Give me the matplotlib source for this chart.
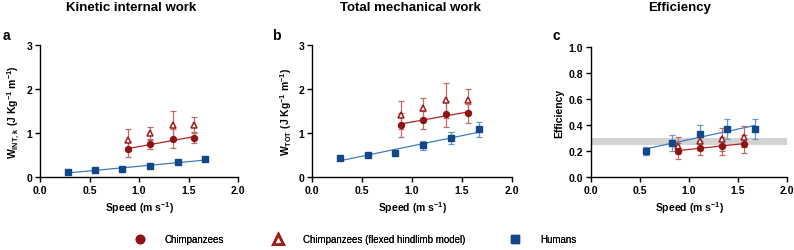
import numpy as np
import matplotlib
matplotlib.use("Agg")
import matplotlib.pyplot as plt
from matplotlib.lines import Line2D

plt.rcParams['font.family'] = ['Liberation Sans', 'DejaVu Sans']
plt.rcParams['font.weight'] = 'bold'
plt.rcParams['mathtext.fontset'] = 'custom'
plt.rcParams['mathtext.rm'] = 'Liberation Sans:bold'
plt.rcParams['mathtext.it'] = 'Liberation Sans:bold'
plt.rcParams['mathtext.bf'] = 'Liberation Sans:bold'
plt.rcParams['mathtext.default'] = 'rm'

# ---- data ----
speed_human = [0.28, 0.56, 0.83, 1.11, 1.39, 1.67]
speed_chimp = [0.89, 1.11, 1.34, 1.56]
speed_human_eff = [0.56, 0.83, 1.11, 1.39, 1.67]

# Panel a: kinetic internal work
a_human = [0.11, 0.15, 0.19, 0.25, 0.33, 0.40]
a_human_err = [0.01, 0.01, 0.01, 0.01, 0.01, 0.01]
a_chimp = [0.63, 0.74, 0.87, 0.89]
a_chimp_err = [0.18, 0.10, 0.21, 0.12]
a_flex = [0.84, 1.00, 1.18, 1.19]
a_flex_err = [0.25, 0.13, 0.32, 0.17]

# Panel b: total mechanical work
b_human = [0.44, 0.49, 0.55, 0.72, 0.88, 1.08]
b_human_err = [0.02, 0.02, 0.03, 0.10, 0.14, 0.18]
b_chimp = [1.19, 1.30, 1.43, 1.45]
b_chimp_err = [0.27, 0.21, 0.29, 0.22]
b_flex = [1.41, 1.56, 1.74, 1.76]
b_flex_err = [0.31, 0.23, 0.39, 0.25]

# Panel c: efficiency
c_human = [0.20, 0.26, 0.33, 0.37, 0.37]
c_human_err = [0.03, 0.06, 0.07, 0.08, 0.08]
c_chimp = [0.20, 0.225, 0.24, 0.255]
c_chimp_err = [0.06, 0.055, 0.07, 0.07]
c_flex = [0.24, 0.275, 0.29, 0.31]
c_flex_err = [0.065, 0.07, 0.09, 0.08]
c_band = [0.25, 0.30]

titles = ['Kinetic internal work', 'Total mechanical work', 'Efficiency']
letters = ['a', 'b', 'c']
ylabels = [r'W$_{\mathrm{INT,\,k}}$ (J Kg$^{-1}$ m$^{-1}$)',
           r'W$_{\mathrm{TOT}}$ (J Kg$^{-1}$ m$^{-1}$)',
           'Efficiency']
xlabel = r'Speed (m s$^{-1}$)'
legend_labels = ['Chimpanzees', 'Chimpanzees (flexed hindlimb model)', 'Humans']

# ---- style ----
RED = '#8e1414'
RED_ERR = '#c46a6a'
RED_LINE = '#b52424'
BLUE = '#12488a'
BLUE_ERR = '#6b97cc'
BLUE_LINE = '#3d7cc2'

fig = plt.figure(figsize=(7.94, 2.51), dpi=100)
W, H = 794, 251
boxes = [(40, 238, 46, 178), (312, 512, 46, 178), (591, 787, 48, 178)]
axes = []
for (l, r, t, b) in boxes:
    axes.append(fig.add_axes([l / W, 1 - b / H, (r - l) / W, (b - t) / H]))

def fitline(ax, x, y, color):
    x = np.asarray(x); y = np.asarray(y)
    k, c0 = np.polyfit(x, y, 1)
    xs = np.array([x.min(), x.max()])
    ax.plot(xs, k * xs + c0, color=color, lw=0.9, zorder=2)

def series(ax, x, y, e, marker, mcolor, ecolor, fill=True):
    ax.errorbar(x, y, yerr=e, fmt='none', ecolor=ecolor, elinewidth=0.9,
                capsize=1.9, capthick=0.9, zorder=3)
    ax.plot(x, y, linestyle='none', marker=marker, markersize=4.3 if marker != '^' else 4.8,
            markerfacecolor=mcolor if fill else 'white', markeredgecolor=mcolor,
            markeredgewidth=1.0 if fill else 1.1, zorder=4)

datasets = [
    (speed_human, a_human, a_human_err, a_chimp, a_chimp_err, a_flex, a_flex_err),
    (speed_human, b_human, b_human_err, b_chimp, b_chimp_err, b_flex, b_flex_err),
    (speed_human_eff, c_human, c_human_err, c_chimp, c_chimp_err, c_flex, c_flex_err),
]

for i, ax in enumerate(axes):
    hx, hy, he, cy, ce, fy, fe = datasets[i]
    if i == 2:
        ax.axhspan(c_band[0], c_band[1], color='#d3d3d3', lw=0, zorder=1)
    fitline(ax, hx, hy, BLUE_LINE)
    fitline(ax, speed_chimp, cy, RED_LINE)
    series(ax, hx, hy, he, 's', BLUE, BLUE_ERR)
    series(ax, speed_chimp, fy, fe, '^', '#a01c1c', RED_ERR, fill=False)
    series(ax, speed_chimp, cy, ce, 'o', RED, RED_ERR)

    ax.set_xlim(0, 2.0)
    ax.set_xticks([0, 0.5, 1.0, 1.5, 2.0])
    ax.set_xticklabels(['0.0', '0.5', '1.0', '1.5', '2.0'])
    if i < 2:
        ax.set_ylim(0, 3)
        ax.set_yticks([0, 1, 2, 3])
    else:
        ax.set_ylim(0, 1.0)
        ax.set_yticks([0, 0.2, 0.4, 0.6, 0.8, 1.0])
        ax.set_yticklabels(['0.0', '0.2', '0.4', '0.6', '0.8', '1.0'])
    for s in ['top', 'right']:
        ax.spines[s].set_visible(False)
    for s in ['left', 'bottom']:
        ax.spines[s].set_linewidth(1.0)
    ax.tick_params(direction='out', length=3.5, width=1.0, labelsize=7.5, pad=2)
    for lab in ax.get_xticklabels() + ax.get_yticklabels():
        lab.set_fontweight('bold')
    ax.set_xlabel(xlabel, fontsize=7.5, fontweight='bold', labelpad=3)
    ax.set_ylabel(ylabels[i], fontsize=7.5, fontweight='bold', labelpad=3)

# titles and letters
title_x = [131, 410, 680]
letter_x = [6, 276, 556]
for i in range(3):
    fig.text(title_x[i] / W, 1 - 8 / H, titles[i], ha='center', va='center',
             fontsize=9.5, fontweight='bold')
    fig.text(letter_x[i] / W, 1 - 36 / H, letters[i], ha='center', va='center',
             fontsize=10, fontweight='bold')

handles = [
    Line2D([], [], ls='none', marker='o', markersize=6.0, color=RED),
    Line2D([], [], ls='none', marker='^', markersize=7, markerfacecolor='white',
           markeredgecolor='#a01c1c', markeredgewidth=2.0),
    Line2D([], [], ls='none', marker='s', markersize=6.0, color=BLUE),
]
legend_x = [135, 273, 510]
for h, lab, lx in zip(handles, legend_labels, legend_x):
    leg = fig.legend([h], [lab], loc='center left', bbox_to_anchor=(lx / W, 1 - 240 / H),
                     frameon=False, fontsize=7, handletextpad=2.08, handlelength=1.0,
                     borderaxespad=0, borderpad=0,
                     prop={'weight': 'normal', 'size': 7})
    fig.add_artist(leg)

fig.savefig('out.png', dpi=100)
